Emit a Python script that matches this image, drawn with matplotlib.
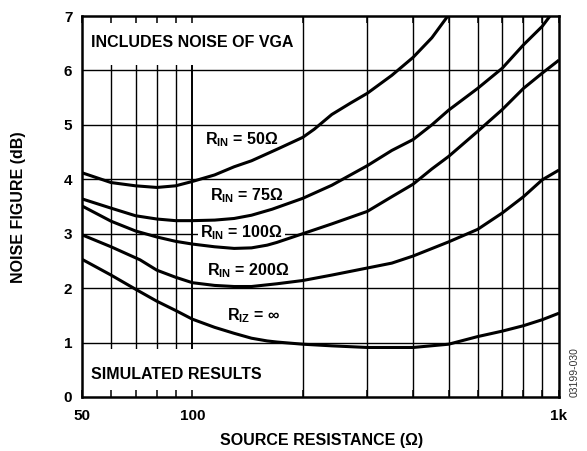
import matplotlib
matplotlib.use("Agg")
import matplotlib.pyplot as plt
from matplotlib.patches import Rectangle
from matplotlib.ticker import FixedLocator, NullFormatter

plt.rcParams['font.family'] = ['Liberation Sans', 'DejaVu Sans']
plt.rcParams['mathtext.fontset'] = 'custom'
plt.rcParams['mathtext.rm'] = 'Liberation Sans:bold'
plt.rcParams['mathtext.it'] = 'Liberation Sans:bold'
plt.rcParams['mathtext.bf'] = 'Liberation Sans:bold'

# ---- data ----
x_50 = [50, 60, 70, 80, 90, 100, 115, 130, 145, 160, 170, 200, 215, 240, 270, 300, 350, 400, 450, 500]
y_50 = [4.12, 3.94, 3.88, 3.85, 3.88, 3.96, 4.08, 4.23, 4.34, 4.47, 4.55, 4.77, 4.92, 5.19, 5.40, 5.58, 5.91, 6.24, 6.60, 7.02]

x_75 = [50, 60, 70, 80, 90, 100, 115, 130, 145, 165, 200, 240, 300, 350, 400, 450, 500, 600, 700, 800, 900, 950]
y_75 = [3.64, 3.47, 3.33, 3.27, 3.24, 3.24, 3.25, 3.28, 3.34, 3.45, 3.65, 3.89, 4.25, 4.53, 4.73, 5.00, 5.27, 5.67, 6.04, 6.47, 6.81, 7.02]

x_100 = [50, 60, 70, 80, 90, 100, 115, 130, 145, 160, 170, 200, 240, 300, 350, 400, 450, 500, 600, 700, 800, 900, 1000]
y_100 = [3.51, 3.23, 3.05, 2.94, 2.86, 2.81, 2.76, 2.73, 2.74, 2.79, 2.84, 3.00, 3.18, 3.41, 3.68, 3.91, 4.19, 4.42, 4.88, 5.28, 5.67, 5.95, 6.19]

x_200 = [50, 60, 72, 80, 90, 100, 115, 130, 145, 170, 200, 240, 300, 350, 400, 500, 600, 700, 800, 900, 1000]
y_200 = [2.98, 2.76, 2.52, 2.33, 2.20, 2.10, 2.05, 2.03, 2.03, 2.08, 2.14, 2.24, 2.37, 2.46, 2.59, 2.85, 3.08, 3.38, 3.68, 3.99, 4.17]

x_inf = [50, 60, 70, 80, 90, 100, 115, 130, 145, 160, 170, 200, 240, 300, 400, 500, 600, 700, 800, 900, 1000]
y_inf = [2.53, 2.24, 1.98, 1.76, 1.59, 1.43, 1.28, 1.17, 1.08, 1.03, 1.01, 0.97, 0.94, 0.91, 0.91, 0.97, 1.11, 1.21, 1.31, 1.42, 1.54]

major_x = [50, 100, 1000]
major_x_labels = ['50', '100', '1k']
minor_x = [60, 70, 80, 90, 200, 300, 400, 500, 600, 700, 800, 900]
y_ticks = [0, 1, 2, 3, 4, 5, 6, 7]

labels = [
    (108, 4.65, r'R$_{\mathrm{IN}}$ = 50Ω', False),
    (112, 3.62, r'R$_{\mathrm{IN}}$ = 75Ω', False),
    (105, 2.94, r'R$_{\mathrm{IN}}$ = 100Ω', True),
    (109.4, 2.24, r'R$_{\mathrm{IN}}$ = 200Ω', False),
    (124.5, 1.415, r'R$_{\mathrm{IZ}}$ = ∞', False),
]

# ---- figure ----
fig = plt.figure(figsize=(5.87, 4.51), dpi=100)
ax = fig.add_axes([82/587, 1 - 397/451, (559-82)/587, (397-16)/451])
ax.set_xscale('log')
ax.set_xlim(50, 1000)
ax.set_ylim(0, 7)

# grid
for xv in minor_x + [100]:
    ax.vlines(xv, 0, 7, color='black', lw=1.4 if xv == 100 else 1.0, zorder=1)
for yv in y_ticks[1:-1]:
    ax.hlines(yv, 50, 1000, color='black', lw=1.0, zorder=1)

# white boxes behind the corner notes
ax.add_patch(Rectangle((50, 6.1), 70, 0.9, facecolor='white', edgecolor='none', zorder=1.5))
ax.add_patch(Rectangle((50, 0.0), 70, 0.89, facecolor='white', edgecolor='none', zorder=1.5))

lw = 2.2
for xs, ys in [(x_50, y_50), (x_75, y_75), (x_100, y_100), (x_200, y_200), (x_inf, y_inf)]:
    ax.plot(xs, ys, color='black', lw=lw, zorder=3, solid_capstyle='butt', solid_joinstyle='round')

# ticks
ax.xaxis.set_major_locator(FixedLocator(major_x))
ax.set_xticklabels(major_x_labels)
ax.xaxis.set_minor_locator(FixedLocator(minor_x))
ax.xaxis.set_minor_formatter(NullFormatter())
ax.tick_params(axis='x', which='both', direction='in', top=True, bottom=True,
               length=5, width=1.1, color='black')
ax.tick_params(axis='x', which='major', pad=9, labelsize=11)
ax.set_yticks(y_ticks)
ax.tick_params(axis='y', length=0, pad=7, labelsize=11)
for t in ax.get_xticklabels() + ax.get_yticklabels():
    t.set_fontweight('bold')

for s in ax.spines.values():
    s.set_linewidth(1.8)

# texts
ax.text(52.8, 6.43, 'INCLUDES NOISE OF VGA', fontsize=11.5, fontweight='bold', zorder=4)
ax.text(52.8, 0.325, 'SIMULATED RESULTS', fontsize=11.5, fontweight='bold', zorder=4)
for xl, yl, s, boxed in labels:
    kw = {}
    if boxed:
        kw['bbox'] = dict(facecolor='white', edgecolor='none', pad=1.5)
    ax.text(xl, yl, s, fontsize=11.5, fontweight='bold', ha='left', va='baseline', zorder=2, **kw)

fig.text(19/587, 1 - 207/451, 'NOISE FIGURE (dB)', rotation=90, ha='center', va='center',
         fontsize=11.5, fontweight='bold')
fig.text(321.7/587, 1 - 440/451, 'SOURCE RESISTANCE (Ω)', ha='center', va='center',
         fontsize=11.5, fontweight='bold')
fig.text(575/587, 1 - 372/451, '03199-030', rotation=90, ha='center', va='center',
         fontsize=7.5, color='#333333')

fig.savefig('out.png', dpi=100)
